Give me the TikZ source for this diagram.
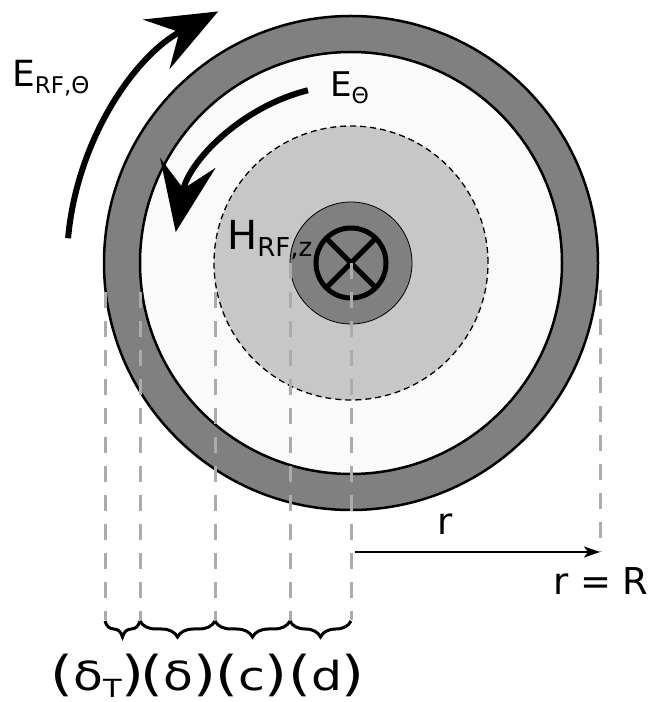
\documentclass[tikz,border=0pt]{standalone}
\usepackage{fontspec}
\setmainfont{DejaVu Sans}
\usetikzlibrary{arrows.meta,decorations.pathreplacing}
\newcommand{\lowsub}[2]{\raisebox{-7pt}{\fontsize{#1}{#1}\selectfont #2}}
\newcommand{\bigpar}[1]{{\fontsize{48}{48}\selectfont #1}}
\newcommand{\widen}[1]{\scalebox{1.22}[1]{#1}}

\begin{document}
\begin{tikzpicture}[x=1pt, y=1pt,
  ring/.style={draw=black, line width=2.5pt},
  guide/.style={draw=black!33, line width=3pt, dash pattern=on 16pt off 13pt},
  field/.style={line width=6pt, -{Stealth[length=70pt, width=56pt, inset=26pt]}},
  lbl/.style={anchor=base west, inner sep=0pt},
  part/.style={anchor=base, inner sep=0pt, font=\fontsize{40}{40}\selectfont},
  brace/.style={decorate, decoration={brace, mirror, amplitude=16pt}, line width=3pt}
]
\useasboundingbox (0,0) rectangle (655,702);
\coordinate (o) at (351,439);
% rings and core
\filldraw[ring, fill=black!50] (o) circle (247);
\filldraw[ring, fill=black!2] (o) circle (211);
\filldraw[fill=black!22, draw=black, line width=1.3pt, dash pattern=on 6pt off 4pt] (o) circle (137);
\filldraw[fill=black!50, draw=black, line width=0.8pt] (o) circle (61);
\draw[line width=5pt] (o) circle (35);
\draw[line width=5pt] (o) ++(45:35) -- ++(225:70);
\draw[line width=5pt] (o) ++(135:35) -- ++(-45:70);

% guide lines
\coordinate (t0) at (105,410);  \coordinate (b0) at (105,82);
\coordinate (t1) at (140,410);  \coordinate (b1) at (140,82);
\coordinate (t2) at (215,410);  \coordinate (b2) at (215,82);
\coordinate (t3) at (290,439);  \coordinate (b3) at (290,82);
\coordinate (t4) at (351,439);  \coordinate (b4) at (351,82);
\coordinate (tR) at (600,412);  \coordinate (bR) at (600,150);
\foreach \i in {0,...,4}
  \draw[guide] (t\i) -- (b\i);
\draw[guide] (tR) -- (bR);

% radius arrow
\draw[line width=1.5pt, -{Stealth[length=16pt, width=11pt, inset=4pt]}] (355,150) -- (bR);

% fields
\draw[field] (o) ++(175:284) arc[start angle=175, end angle=118, radius=285];
\draw[field] (o) ++(104:178) arc[start angle=104, end angle=170, radius=178];

% labels
\node[lbl, font=\fontsize{36}{36}\selectfont] (erf) at (12,615) {E\lowsub{23}{RF,Θ}};
\node[lbl, font=\fontsize{34}{34}\selectfont] (eth) at (330,605) {E\lowsub{22}{Θ}};
\node[lbl, font=\fontsize{40}{40}\selectfont] (hrf) at (227,452) {H\lowsub{26}{RF,z}};
\node[lbl, font=\fontsize{37}{37}\selectfont] (rr) at (437,167) {r};
\node[lbl, font=\fontsize{37}{37}\selectfont] (rR) at (553,107) {r = R};

% layer braces
\draw[brace] (105,81) -- (140,81);
\draw[brace] (140,81) -- (215,81);
\draw[brace] (215,81) -- (290,81);
\draw[brace] (290,81) -- (351,81);
\node[part] (dT) at (97.5,12) {\widen{\bigpar{(}δ\lowsub{25}{T}\bigpar{)}}};
\node[part] (dd) at (178.5,12) {\widen{\bigpar{(}δ\bigpar{)}}};
\node[part] (cc) at (251.5,12) {\widen{\bigpar{(}c\bigpar{)}}};
\node[part] (dl) at (326.5,12) {\widen{\bigpar{(}d\bigpar{)}}};
\end{tikzpicture}
\end{document}
